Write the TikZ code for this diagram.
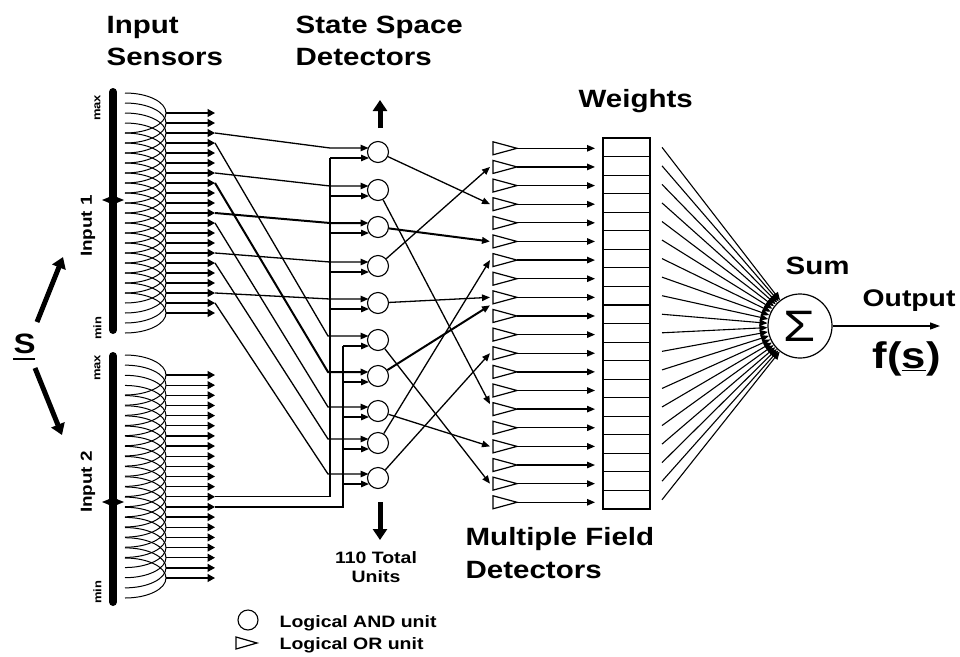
\documentclass[tikz,border=0pt]{standalone}
\usepackage{fontspec}
\setmainfont{Liberation Sans}[FakeStretch=1.18]
\usetikzlibrary{arrows.meta,calc}
\begin{document}
\begin{tikzpicture}[x=1pt,y=-1pt,line width=1.3pt,
  stip/.style={-{Triangle[length=7.5pt,width=8pt]}},
  atip/.style={-{Triangle[length=8pt,width=6.5pt]}},
  sumtip/.style={line width=1.1pt,-{Triangle[length=8pt,width=6.5pt]}},
  thickw/.style={line width=2pt},
  andu/.style={circle,draw,minimum size=21pt,inner sep=0pt,line width=1.1pt},
  ttl/.style={font=\bfseries\fontsize{25}{25}\selectfont,anchor=base west,inner sep=0pt},
  smalltxt/.style={font=\bfseries\fontsize{16.5}{16.5}\selectfont,inner sep=0pt},
  tinytxt/.style={font=\bfseries\fontsize{11}{11}\selectfont,inner sep=0pt,rotate=90},
  midtxt/.style={font=\bfseries\fontsize{16}{16}\selectfont,inner sep=0pt,rotate=90},
  bigarrow/.style={line width=5pt,-{Triangle[length=11pt,width=14pt]}},
  curve/.style={line width=1pt}]
\useasboundingbox (0,0) rectangle (960,656);

% ---------- titles ----------
\node[ttl] (tInput) at (106,33) {Input};
\node[ttl] (tSensors) at (106,65) {Sensors};
\node[ttl] (tState) at (295,33) {State Space};
\node[ttl] (tDet) at (295,65) {Detectors};
\node[ttl] (tWeights) at (578,107) {Weights};
\node[ttl] (tSum) at (785,274) {Sum};
\node[ttl,font=\bfseries\fontsize{24}{24}\selectfont] (tOut) at (862,306) {Output};
\node[ttl,font=\bfseries\fontsize{37}{37}\selectfont] (tf) at (872,368) {f(\underline{s})};
\node[ttl] (tMult) at (465,545) {Multiple Field};
\node[ttl] (tMult2) at (465,578) {Detectors};
\node[smalltxt,anchor=base] (t110) at (376,563) {110 Total};
\node[smalltxt,anchor=base] (tUnits) at (376,582) {Units};

% ---------- S and its arrows ----------
\node[ttl,font=\bfseries\fontsize{28}{28}\selectfont] (sS) at (13,353) {S};
\draw[line width=2.5pt] (13,359) -- (35,359);
\coordinate (sUa) at (37,322); \coordinate (sUb) at (63,257);
\coordinate (sDa) at (35,368); \coordinate (sDb) at (62,435);
\draw[bigarrow] (sUa) -- (sUb);
\draw[bigarrow] (sDa) -- (sDb);

% ---------- input bars ----------
\draw[line width=8pt,line cap=round] (113,92) -- (113,330);
\draw[line width=8pt,line cap=round] (113,356) -- (113,602);
\fill (102,200) -- (113,195.5) -- (124,200) -- (113,204.5) -- cycle;
\fill (102,502) -- (113,497.5) -- (124,502) -- (113,506.5) -- cycle;
\node[tinytxt] (mx1) at (97.5,108) {max};
\node[tinytxt] (mn1) at (97.5,328) {min};
\node[tinytxt] (mx2) at (97.5,368) {max};
\node[tinytxt] (mn2) at (97.5,592) {min};
\node[midtxt] (in1) at (88,226) {Input 1};
\node[midtxt] (in2) at (88,482) {Input 2};

% ---------- input sensors ----------
\foreach \i in {0,...,20}{
  \pgfmathsetmacro\yy{113+10*\i}
  \draw[curve] (125,\yy-20) .. controls (148,\yy-20) and (166,\yy-11) .. (166,\yy)
               .. controls (166,\yy+11) and (148,\yy+20) .. (125,\yy+20);
  \coordinate (a\i) at (215,\yy);
  \draw[stip] (166,\yy) -- (a\i);
}
\foreach \i in {0,...,20}{
  \pgfmathsetmacro\yy{375+10.15*\i}
  \draw[curve] (125,\yy-20) .. controls (148,\yy-20) and (166,\yy-11) .. (166,\yy)
               .. controls (166,\yy+11) and (148,\yy+20) .. (125,\yy+20);
  \coordinate (b\i) at (215,\yy);
  \draw[stip] (166,\yy) -- (b\i);
}

% ---------- state space detectors (AND units) ----------
\foreach \k/\cy in {1/152,2/190,3/227,4/266,5/303,6/340,7/376,8/411,9/443,10/478}{
  \node[andu] (c\k) at (378,\cy) {};
  \coordinate (u\k) at (368.5,\cy-4);
  \coordinate (l\k) at (369,\cy+6);
}
\coordinate (busA) at (330,0);
\coordinate (busB) at (343,0);
\coordinate (diag) at (328,0);

% input 1 -> upper inputs
\foreach \i/\k in {2/1,6/2,14/4,18/5}{
  \draw[atip] (a\i) -- (u\k -| busA) -- (u\k);
}
\draw[atip,thickw] (a10) -- (u3 -| busA) -- (u3);
\foreach \i/\k in {3/6,11/8,15/9,19/10}{
  \draw[atip] (a\i) -- (u\k -| diag) -- (u\k);
}
\draw[atip,thickw] (a7) -- (u7 -| diag) -- (u7);

% input 2 -> buses -> lower inputs
\draw (b12) -| (l1 -| busA);
\foreach \k in {1,...,5}{ \draw[atip] (l\k -| busA) -- (l\k); }
\draw (b13) -| (l6 -| busB);
\foreach \k in {6,...,10}{ \draw[atip] (l\k -| busB) -- (l\k); }

% arrows indicating more units
\coordinate (upS) at (380,128); \coordinate (upT) at (380,100);
\coordinate (dnS) at (380,502); \coordinate (dnT) at (380,540);
\draw[bigarrow] (upS) -- (upT);
\draw[bigarrow] (dnS) -- (dnT);

% ---------- multiple field detectors (OR units) ----------
\foreach \m in {1,...,20}{
  \pgfmathsetmacro\ty{148.3+18.63*(\m-1)}
  \draw[line width=1.2pt] (493,\ty-6.5) -- (517,\ty) -- (493,\ty+6.5) -- cycle;
  \coordinate (tw\m) at (490,\ty);
  \coordinate (te\m) at (517,\ty);
  \coordinate (wi\m) at (595,\ty);
  \draw[atip] (te\m) -- (wi\m);
}

% AND -> OR connections
\draw[atip] (c1) -- (tw4);
\draw[atip] (c2) -- ([yshift=5pt]tw15);
\draw[atip,thickw] (c3) -- (tw6);
\draw[atip] (c4) -- (tw2);
\draw[atip] (c5) -- (tw9);
\draw[atip] (c6) -- (tw19);
\draw[atip,thickw] (c7) -- ([yshift=-8pt]tw9);
\draw[atip] (c8) -- (tw17);
\draw[atip] (c9) -- (tw7);
\draw[atip] (c10) -- (tw12);

% ---------- weights ----------
\draw[line width=1.2pt] (603,138) rectangle (650,509);
\foreach \m in {1,...,19}{ \draw[line width=1.1pt] (603,138+18.55*\m) -- (650,138+18.55*\m); }

% ---------- sum ----------
\node[circle,draw,line width=1.2pt,minimum size=64pt,inner sep=0pt,
      font=\fontsize{44}{44}\selectfont] (sum) at (800,326) {Σ};
\foreach \m in {1,...,20}{
  \pgfmathsetmacro\wy{147.3+18.55*(\m-1)}
  \coordinate (wo\m) at (662,\wy);
  \draw[sumtip] (wo\m) -- (sum);
}
\coordinate (out) at (940,326);
\draw[line width=1.2pt,-{Triangle[length=10pt,width=7pt]}] (sum) -- (out);

% ---------- legend ----------
\node[andu,minimum size=20pt] (legA) at (248,620) {};
\draw[line width=1.2pt] (236,637) -- (257,643) -- (236,649) -- cycle;
\node[smalltxt,anchor=base west] (legAt) at (279,627) {Logical AND unit};
\node[smalltxt,anchor=base west] (legOt) at (279,649) {Logical OR unit};
\end{tikzpicture}
\end{document}
